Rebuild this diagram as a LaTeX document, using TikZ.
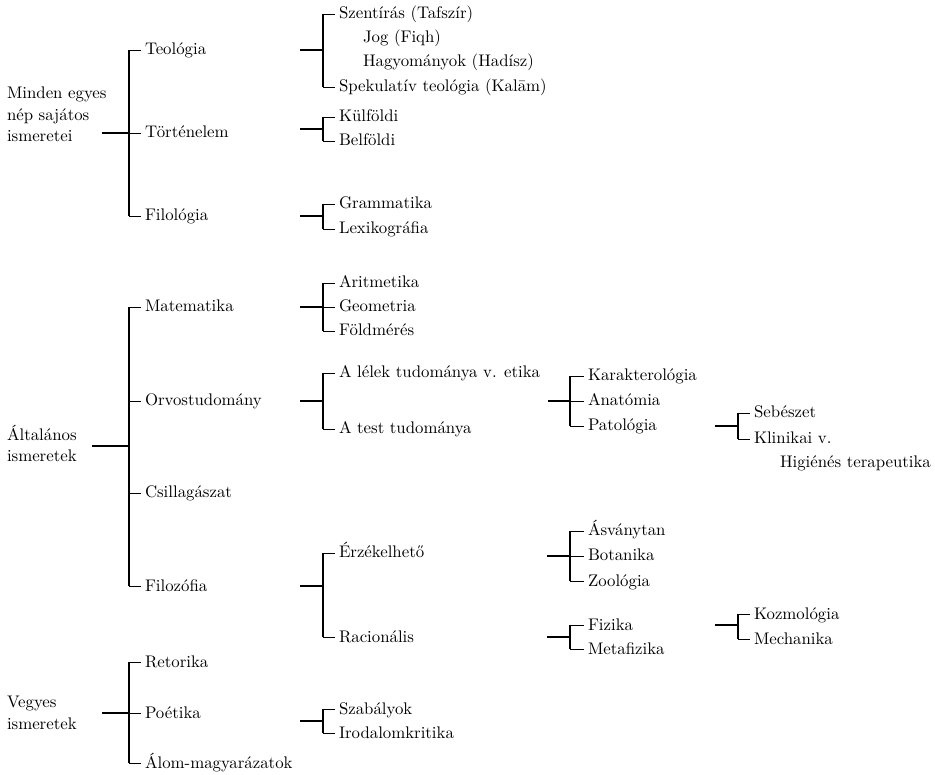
\documentclass[tikz,border=0pt]{standalone}
\font\diaten="[lmroman10-regular]" at 16.8pt
\newcommand\diafont{\fontsize{16.8}{21.5}\selectfont\diaten}
\begin{document}
\begin{tikzpicture}[x=1pt,y=-1pt,
  lbl/.style={anchor=west,inner xsep=4pt,inner ysep=0pt,outer sep=0pt,text height=12pt,text depth=2pt,font=\diafont},
  rootlbl/.style={anchor=base west,inner sep=0pt,outer sep=0pt,font=\diafont},
  brk/.style={line width=1.4pt},
  tick/.style={line width=0.9pt}]
\useasboundingbox (0,0) rectangle (935,775);

% ================= top group =================
\node[rootlbl] (r1) at (7,142) {\begin{tabular}[b]{@{}l@{}}Minden egyes\\nép sajátos\\ismeretei\end{tabular}};
\coordinate (r1e) at (102,133);
\coordinate (v1) at (129,133);
\draw[brk] (r1e) -- (v1);
\node[lbl] (teo) at (141,50) {Teológia};
\node[lbl] (tort) at (141,133) {Történelem};
\node[lbl] (filo) at (141,216) {Filológia};
\draw[brk] (v1 |- teo.west) -- (v1 |- filo.west);
\foreach \n in {teo,tort,filo} \draw[tick] (v1 |- \n.west) -- (\n.west);

% Teologia
\coordinate (teoS) at (300,50); \coordinate (teoV) at (323,50);
\draw[brk] (teoS) -- (teoV);
\node[lbl] (szent) at (335,14) {Szentírás (Tafszír)};
\node[lbl] (jog) at (359,38) {Jog (Fiqh)};
\node[lbl] (hagy) at (359,62) {Hagyományok (Hadísz)};
\node[lbl] (spek) at (335,87) {Spekulatív teológia (Kalām)};
\draw[brk] (teoV |- szent.west) -- (teoV |- spek.west);
\foreach \n in {szent,spek} \draw[tick] (teoV |- \n.west) -- (\n.west);

% Tortenelem
\coordinate (tortS) at (300,129); \coordinate (tortV) at (323,129);
\draw[brk] (tortS) -- (tortV);
\node[lbl] (kulf) at (335,117) {Külföldi};
\node[lbl] (belf) at (335,141) {Belföldi};
\draw[brk] (tortV |- kulf.west) -- (tortV |- belf.west);
\foreach \n in {kulf,belf} \draw[tick] (tortV |- \n.west) -- (\n.west);

% Filologia
\coordinate (filoS) at (300,216); \coordinate (filoV) at (323,216);
\draw[brk] (filoS) -- (filoV);
\node[lbl] (gram) at (335,204) {Grammatika};
\node[lbl] (lex) at (335,229) {Lexikográfia};
\draw[brk] (filoV |- gram.west) -- (filoV |- lex.west);
\foreach \n in {gram,lex} \draw[tick] (filoV |- \n.west) -- (\n.west);

% ================= middle group =================
\node[rootlbl] (r2) at (7,462) {\begin{tabular}[b]{@{}l@{}}Általános\\ismeretek\end{tabular}};
\coordinate (r2e) at (92,446);
\coordinate (v2) at (129,446);
\draw[brk] (r2e) -- (v2);
\node[lbl] (mat) at (141,307) {Matematika};
\node[lbl] (orv) at (141,401) {Orvostudomány};
\node[lbl] (csil) at (141,493) {Csillagászat};
\node[lbl] (filoz) at (141,586) {Filozófia};
\draw[brk] (v2 |- mat.west) -- (v2 |- filoz.west);
\foreach \n in {mat,orv,csil,filoz} \draw[tick] (v2 |- \n.west) -- (\n.west);

% Matematika
\coordinate (matS) at (300,307); \coordinate (matV) at (323,307);
\draw[brk] (matS) -- (matV);
\node[lbl] (arit) at (335,283) {Aritmetika};
\node[lbl] (geom) at (335,307) {Geometria};
\node[lbl] (fold) at (335,331) {Földmérés};
\draw[brk] (matV |- arit.west) -- (matV |- fold.west);
\foreach \n in {arit,geom,fold} \draw[tick] (matV |- \n.west) -- (\n.west);

% Orvostudomany
\coordinate (orvS) at (300,401); \coordinate (orvV) at (323,401);
\draw[brk] (orvS) -- (orvV);
\node[lbl] (lelek) at (335,373) {A lélek tudománya v. etika};
\node[lbl] (test) at (335,429) {A test tudománya};
\draw[brk] (orvV |- lelek.west) -- (orvV |- test.west);
\foreach \n in {lelek,test} \draw[tick] (orvV |- \n.west) -- (\n.west);

\coordinate (tudS) at (548,401); \coordinate (tudV) at (570,401);
\draw[brk] (tudS) -- (tudV);
\node[lbl] (kar) at (584,376) {Karakterológia};
\node[lbl] (anat) at (584,401) {Anatómia};
\node[lbl] (pat) at (584,426) {Patológia};
\draw[brk] (tudV |- kar.west) -- (tudV |- pat.west);
\foreach \n in {kar,anat,pat} \draw[tick] (tudV |- \n.west) -- (\n.west);

\coordinate (patS) at (715,426); \coordinate (patV) at (738,426);
\draw[brk] (patS) -- (patV);
\node[lbl] (seb) at (750,413) {Sebészet};
\node[lbl] (klin) at (750,439) {Klinikai v.};
\node[lbl] (hig) at (776,463) {Higiénés terapeutika};
\draw[brk] (patV |- seb.west) -- (patV |- klin.west);
\foreach \n in {seb,klin} \draw[tick] (patV |- \n.west) -- (\n.west);

% Filozofia
\coordinate (filozS) at (300,586); \coordinate (filozV) at (323,586);
\draw[brk] (filozS) -- (filozV);
\node[lbl] (erz) at (335,553) {Érzékelhető};
\node[lbl] (rac) at (335,637) {Racionális};
\draw[brk] (filozV |- erz.west) -- (filozV |- rac.west);
\foreach \n in {erz,rac} \draw[tick] (filozV |- \n.west) -- (\n.west);

\coordinate (erzS) at (547,556); \coordinate (erzV) at (570,556);
\draw[brk] (erzS) -- (erzV);
\node[lbl] (asv) at (584,531) {Ásványtan};
\node[lbl] (bot) at (584,556) {Botanika};
\node[lbl] (zoo) at (584,581) {Zoológia};
\draw[brk] (erzV |- asv.west) -- (erzV |- zoo.west);
\foreach \n in {asv,bot,zoo} \draw[tick] (erzV |- \n.west) -- (\n.west);

\coordinate (racS) at (547,637); \coordinate (racV) at (570,637);
\draw[brk] (racS) -- (racV);
\node[lbl] (fiz) at (584,625) {Fizika};
\node[lbl] (meta) at (584,649) {Metafizika};
\draw[brk] (racV |- fiz.west) -- (racV |- meta.west);
\foreach \n in {fiz,meta} \draw[tick] (racV |- \n.west) -- (\n.west);

\coordinate (fizS) at (715,625); \coordinate (fizV) at (738,625);
\draw[brk] (fizS) -- (fizV);
\node[lbl] (koz) at (750,614) {Kozmológia};
\node[lbl] (mech) at (750,639) {Mechanika};
\draw[brk] (fizV |- koz.west) -- (fizV |- mech.west);
\foreach \n in {koz,mech} \draw[tick] (fizV |- \n.west) -- (\n.west);

% ================= bottom group =================
\node[rootlbl] (r3) at (7,729) {\begin{tabular}[b]{@{}l@{}}Vegyes\\ismeretek\end{tabular}};
\coordinate (r3e) at (102,713);
\coordinate (v3) at (129,713);
\draw[brk] (r3e) -- (v3);
\node[lbl] (ret) at (141,662) {Retorika};
\node[lbl] (poe) at (141,713) {Poétika};
\node[lbl] (alom) at (141,763) {Álom-magyarázatok};
\draw[brk] (v3 |- ret.west) -- (v3 |- alom.west);
\foreach \n in {ret,poe,alom} \draw[tick] (v3 |- \n.west) -- (\n.west);

\coordinate (poeS) at (300,721); \coordinate (poeV) at (323,721);
\draw[brk] (poeS) -- (poeV);
\node[lbl] (szab) at (335,709) {Szabályok};
\node[lbl] (irod) at (335,733) {Irodalomkritika};
\draw[brk] (poeV |- szab.west) -- (poeV |- irod.west);
\foreach \n in {szab,irod} \draw[tick] (poeV |- \n.west) -- (\n.west);
\end{tikzpicture}
\end{document}
